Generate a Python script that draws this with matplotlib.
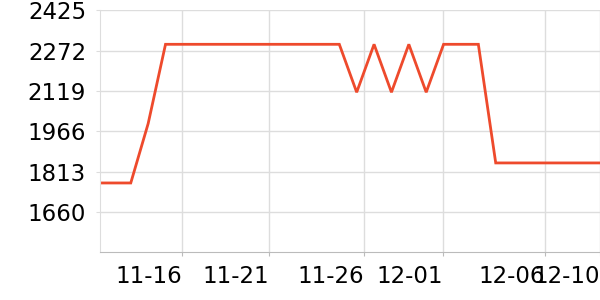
import matplotlib
matplotlib.use("Agg")
import matplotlib.pyplot as plt

# x in day-of-November units (32 = 12-02 etc.)
days = [12, 13, 14, 15, 16, 17, 18, 19, 20, 21, 22, 23, 24, 25, 26,
        27, 28, 29, 30, 31, 32, 33, 34, 35, 36, 37, 38, 39, 40, 41]
values = [1770, 1770, 1770, 1995, 2296, 2296, 2296, 2296, 2296, 2296, 2296,
          2296, 2296, 2296, 2296, 2114, 2296, 2114, 2296, 2114, 2296, 2296,
          2296, 1846, 1846, 1846, 1846, 1846, 1846, 1846]

x_ticks = [16.95, 21.96, 27.42, 31.97, 37.84, 41.0]
x_labels = ['11-16', '11-21', '11-26', '12-01', '12-06', '12-10']
y_ticks = [1660, 1813, 1966, 2119, 2272, 2425]

fig = plt.figure(figsize=(6, 3), dpi=100)
ax = fig.add_axes([100 / 600, (300 - 252.3) / 300, 500 / 600, 242 / 300])

ax.plot(days, values, color='#ee4a2c', linewidth=2.0, solid_joinstyle='miter')

ax.set_xlim(12.23, 41.0)
ax.set_ylim(1507, 2425)

ax.set_xticks(x_ticks)
ax.set_xticklabels(x_labels, ha='right', fontsize=16.5)
ax.set_yticks(y_ticks)
ax.set_yticklabels([str(v) for v in y_ticks], fontsize=16.5)

ax.grid(True, color='#dddddd', linewidth=1)
ax.set_axisbelow(True)

for side in ['top', 'right']:
    ax.spines[side].set_visible(False)
ax.spines['left'].set_color('#dddddd')
ax.spines['bottom'].set_color('#bbbbbb')
ax.tick_params(axis='x', length=3, color='#bbbbbb', pad=6)
ax.tick_params(axis='y', length=3, color='#dddddd', pad=7)

fig.savefig('out.png', dpi=100)
